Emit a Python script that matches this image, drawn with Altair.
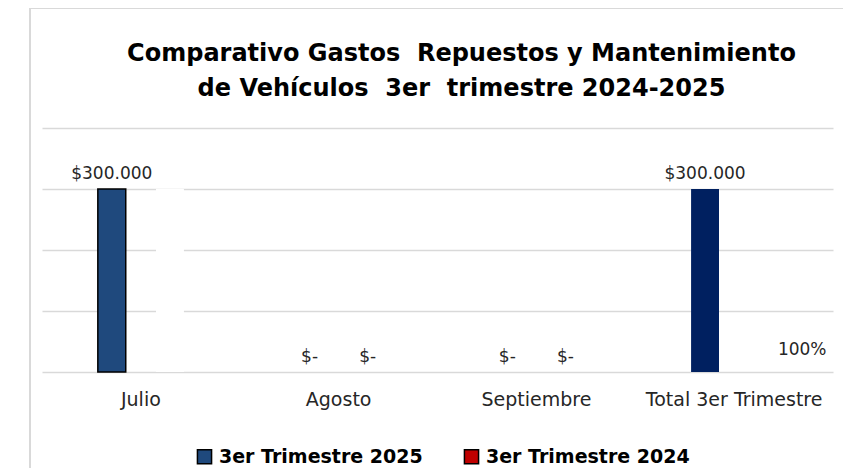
import altair as alt
import pandas as pd

categories = ["Julio", "Agosto", "Septiembre", "Total 3er Trimestre"]
series = ["3er Trimestre 2025", "3er Trimestre 2024"]
values_2025 = [300000, 0, 0, 300000]
values_2024 = [300000, 0, 0, 0]
labels_2024_show = [False, True, True, False]
pct_labels = ["", "", "", "100%"]

def fmt(v):
    return "$-" if v == 0 else "$" + f"{v:,.0f}".replace(",", ".")

rows = []
for i, c in enumerate(categories):
    rows.append({"mes": c, "serie": series[0], "valor": values_2025[i],
                 "label": fmt(values_2025[i]), "pct": ""})
    rows.append({"mes": c, "serie": series[1], "valor": values_2024[i],
                 "label": fmt(values_2024[i]) if labels_2024_show[i] else "",
                 "pct": pct_labels[i]})
df = pd.DataFrame(rows)

FONT = "DejaVu Sans"
IS_TOTAL25 = "datum.mes == 'Total 3er Trimestre' && datum.serie == '3er Trimestre 2025'"
IS_JUL24 = "datum.mes == 'Julio' && datum.serie == '3er Trimestre 2024'"

x = alt.X("mes:N", sort=categories, title=None,
          scale=alt.Scale(paddingInner=0, paddingOuter=0),
          axis=alt.Axis(domain=False, ticks=False, grid=False, labelAngle=0, labelFontSize=19,
                        labelColor="#262626", labelFont=FONT, labelPadding=18, labelLimit=300))
xo = alt.XOffset("serie:N", sort=series,
                 scale=alt.Scale(paddingInner=0.52, paddingOuter=0.96))
y = alt.Y("valor:Q", title=None,
          scale=alt.Scale(domain=[0, 400000]),
          axis=alt.Axis(values=[0, 100000, 200000, 300000, 400000], labels=False,
                        domain=False, ticks=False, gridColor="#D9D9D9", gridWidth=1.5))

base = alt.Chart(df).encode(x=x, xOffset=xo, y=y)

bars = base.mark_bar(strokeWidth=1.5).encode(
    fill=alt.Fill("serie:N", sort=series,
                  scale=alt.Scale(domain=series, range=["#1F497D", "#C00000"]),
                  legend=alt.Legend(title=None, orient="none", direction="horizontal",
                                    legendX=153, legendY=319,
                                    symbolType="square", symbolSize=200,
                                    symbolStrokeColor="black", symbolStrokeWidth=1.5,
                                    labelFontSize=19, labelFont=FONT,
                                    labelFontWeight="bold", labelColor="#000000",
                                    columnPadding=38, labelOffset=5, labelLimit=400)),
    stroke=alt.condition("datum.mes == 'Julio' && datum.serie == '3er Trimestre 2025'",
                         alt.value("black"), alt.value("transparent")),
).transform_filter(f"!({IS_TOTAL25}) && !({IS_JUL24})")

total_bar = base.mark_bar(fill="#002060").transform_filter(IS_TOTAL25)
white_bar = base.mark_bar(fill="white").transform_filter(IS_JUL24)

labels = base.mark_text(baseline="bottom", dy=-6, fontSize=17, font=FONT,
                        color="#262626").encode(text="label:N")
pcts = base.mark_text(baseline="bottom", dy=-13, dx=39, fontSize=17, font=FONT,
                      color="#262626").encode(text="pct:N")

frame = alt.Chart(df).mark_rect(fill=None, stroke="#D9D9D9", strokeWidth=1.5).encode(
    x=alt.value(-12), x2=alt.value(860), y=alt.value(-120), y2=alt.value(400))

chart = alt.layer(frame, bars, total_bar, white_bar, labels, pcts).properties(
    width=791, height=244,
    background="white",
    title=alt.TitleParams(
        ["Comparativo Gastos\u00a0\u00a0Repuestos y Mantenimiento",
         "de Vehículos\u00a0\u00a03er\u00a0\u00a0trimestre 2024-2025"],
        fontSize=24, font=FONT, fontWeight="bold", color="#000000",
        anchor="middle", offset=0, dy=94, dx=24, lineHeight=35),
    autosize=alt.AutoSizeParams(type="none"),
    padding={"left": 34, "top": 120, "right": 10, "bottom": 96},
).configure_view(stroke="transparent", strokeWidth=0)

chart.save("out.html", embed_options={"renderer": "svg", "actions": False})
